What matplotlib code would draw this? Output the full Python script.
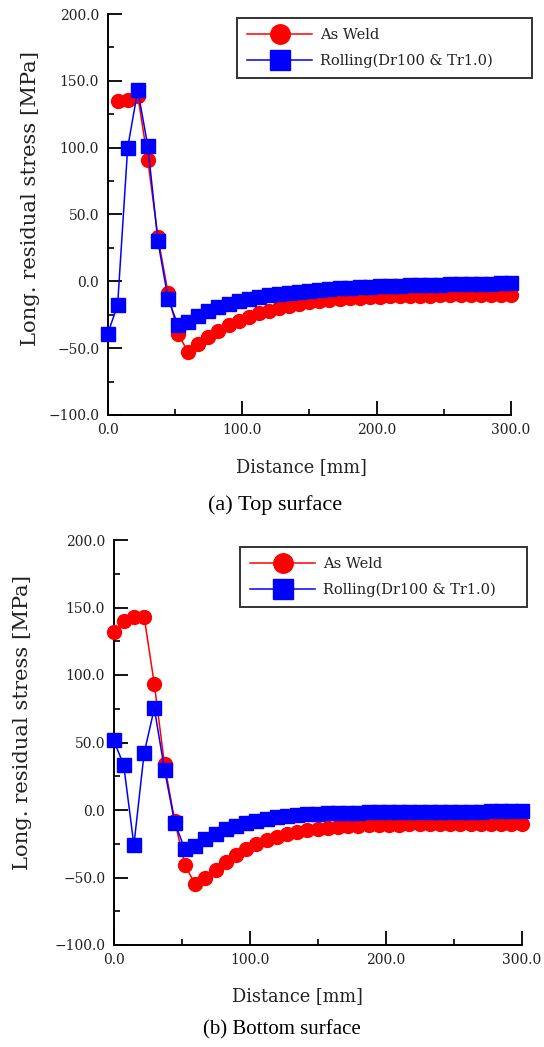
import numpy as np
import matplotlib
matplotlib.use("Agg")
import matplotlib.pyplot as plt
from matplotlib.ticker import MultipleLocator, FuncFormatter

# ---- data ----
x_all = [i * 7.5 for i in range(41)]  # 0 .. 300 mm

top_weld_x = x_all[1:]
top_weld = [135, 136, 139, 90.5, 33, -8.5, -39.5, -53, -47, -42, -37.5, -33,
            -29.5, -26.5, -24, -22, -20, -18.3, -17, -15.8, -14.8, -14, -13.3,
            -12.7, -12.2, -11.8, -11.5, -11.2, -11, -10.8, -10.7, -10.6, -10.5,
            -10.5, -10.4, -10.4, -10.3, -10.3, -10.2, -10.2]
top_roll = [-39.5, -18, 100, 143, 101, 30, -13, -33, -30.5, -26, -22.5, -19.5,
            -17, -15, -13.2, -11.7, -10.5, -9.4, -8.5, -7.7, -7, -6.4, -5.8,
            -5.3, -4.9, -4.5, -4.1, -3.8, -3.5, -3.2, -3, -2.8, -2.6, -2.4,
            -2.2, -2.1, -2, -1.8, -1.7, -1.6, -1.5]

bot_weld = [132, 140, 142.7, 143.2, 93.3, 33.8, -8, -40.7, -55, -50, -44.4,
            -38.3, -33.3, -29.1, -25.2, -22.2, -19.8, -17.8, -16, -14.8, -13.8,
            -13, -12.4, -12, -11.6, -11.3, -11.1, -10.9, -10.8, -10.7, -10.6,
            -10.5, -10.4, -10.3, -10.3, -10.2, -10.2, -10.1, -10.1, -10, -10]
bot_roll = [52, 33.3, -26, 42, 75.3, 30, -9.4, -29, -26.7, -21.7, -17.8,
            -14.3, -11.9, -9.4, -7.9, -6.7, -5.4, -4.4, -3.7, -3.2, -2.7,
            -2.5, -2.2, -2, -1.9, -1.8, -1.7, -1.6, -1.5, -1.5, -1.4, -1.4,
            -1.3, -1.3, -1.2, -1.2, -1.2, -1.1, -1.1, -1.1, -1.1]

labels = ["As Weld", "Rolling(Dr100 & Tr1.0)"]
captions = ["(a) Top surface", "(b) Bottom surface"]
ylabel = "Long. residual stress [MPa]"
xlabel = "Distance [mm]"

# ---- figure ----
W, H = 544, 1047
fig = plt.figure(figsize=(W / 100, H / 100), dpi=100)
serif = "DejaVu Serif"
txtc = "#222222"

fmt = FuncFormatter(lambda v, p: f"{v:.1f}".replace("-", "\u2212"))


def px_axes(l, r, t, b):
    return [l / W, 1 - b / H, (r - l) / W, (b - t) / H]


def draw(ax, wx, wy, rx, ry, leg_box, ylab_xy, xlab_xy):
    ax.plot(wx, wy, color="#ff0000", lw=1.1, marker="o", ms=10,
            mec="#ff0000", mfc="#ff0000", clip_on=False, zorder=3, label=labels[0])
    ax.plot(rx, ry, color="#0000ff", lw=1.1, marker="s", ms=10,
            mec="#0000ff", mfc="#0000ff", clip_on=False, zorder=4, label=labels[1])
    ax.set_xlim(0, 300)
    ax.set_ylim(-100, 200)
    for s in ["top", "right"]:
        ax.spines[s].set_visible(False)
    for s in ["left", "bottom"]:
        ax.spines[s].set_linewidth(1.4)
    ax.xaxis.set_major_locator(MultipleLocator(100))
    ax.xaxis.set_minor_locator(MultipleLocator(50))
    ax.yaxis.set_major_locator(MultipleLocator(50))
    ax.yaxis.set_minor_locator(MultipleLocator(25))
    ax.xaxis.set_major_formatter(fmt)
    ax.yaxis.set_major_formatter(fmt)
    ax.tick_params(which="major", direction="in", length=10, width=1.3,
                   labelsize=10, pad=6, colors="black", labelcolor=txtc)
    ax.tick_params(which="minor", direction="in", length=4.5, width=1.2)
    for t in ax.get_xticklabels() + ax.get_yticklabels():
        t.set_family(serif)
    ax.set_ylabel(ylabel, family=serif, fontsize=15.2, color=txtc)
    ax.yaxis.set_label_coords(*ylab_xy)
    ax.set_xlabel(xlabel, family=serif, fontsize=12.8, color=txtc)
    ax.xaxis.set_label_coords(*xlab_xy)
    ax.yaxis.label.set_va("center")
    ax.xaxis.label.set_va("center")
    leg = ax.legend(loc="upper left", bbox_to_anchor=leg_box, mode="expand",
                    frameon=True, fancybox=False, edgecolor="black",
                    markerscale=1.4, prop={"family": serif, "size": 10.5},
                    handlelength=4.45, borderpad=0.7, labelspacing=0.8,
                    handletextpad=0.55, borderaxespad=0)
    leg.get_frame().set_linewidth(1.4)
    for t in leg.get_texts():
        t.set_color(txtc)


ax1 = fig.add_axes(px_axes(107.5, 511, 14, 415))
draw(ax1, top_weld_x, top_weld, x_all, top_roll, (0.321, 0.835, 0.731, 0.155),
     (-0.192, 0.541), (0.48, -0.130))
ax2 = fig.add_axes(px_axes(113.5, 521.5, 540, 945))
draw(ax2, x_all, bot_weld, x_all, bot_roll, (0.310, 0.828, 0.703, 0.155),
     (-0.224, 0.55), (0.45, -0.126))

fig.text(275 / W, 1 - 505 / H, captions[0], ha="center", va="center",
         family="Liberation Serif", fontsize=16)
fig.text(282 / W, 1 - 1030 / H, captions[1], ha="center", va="center",
         family="Liberation Serif", fontsize=15)

fig.savefig("out.png", dpi=100)
